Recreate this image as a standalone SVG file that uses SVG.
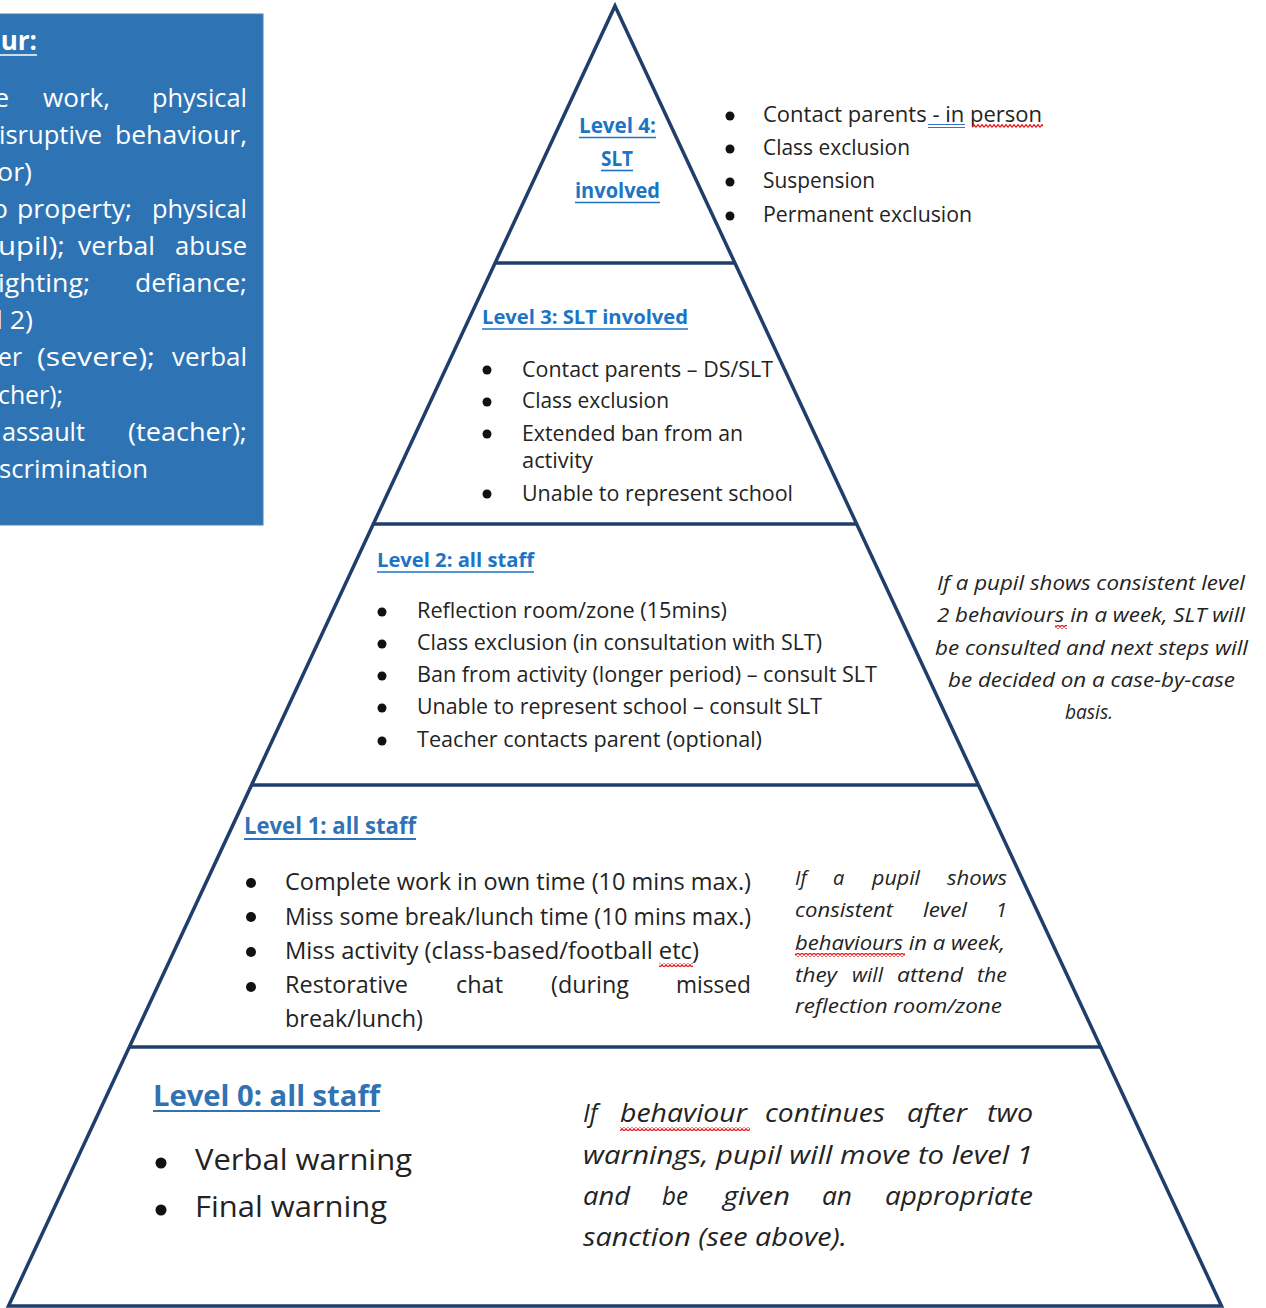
<svg xmlns="http://www.w3.org/2000/svg" width="1266" height="1308" viewBox="0 0 1266 1308">
<style>
  .b{font-family:"Open Sans","Liberation Sans",sans-serif;fill:#232323}
  .it{font-style:italic}
  .w{fill:#ffffff}
  .t1{font-family:"Open Sans","Liberation Sans",sans-serif;font-weight:bold;fill:#1c74c6}
  .t2{font-family:"Open Sans","Liberation Sans",sans-serif;font-weight:bold;fill:#3072b4}
  .u1{stroke:#1c74c6;stroke-width:1.6}
  .u2{stroke:#3072b4;stroke-width:2}
  .bul{fill:#111111}
  .frame{fill:none;stroke:#1f3e6b;stroke-width:3.5;stroke-linejoin:miter}
  .sq{fill:url(#wave)}
</style>
<defs>
  <pattern id="wave" patternUnits="userSpaceOnUse" x="0" y="0" width="4" height="4">
    <path d="M0,3.4 L2,0.6 L4,3.4" fill="none" stroke="#e41c1c" stroke-width="1.2"/>
  </pattern>
</defs>
<rect width="1266" height="1308" fill="#ffffff"/>

<g id="behaviour-box">
  <rect x="-2" y="14" width="265" height="511" fill="#2e74b5" stroke="#4a80b8" stroke-width="1"/>
  <g class="b w" font-size="26">
    <text x="37" y="50" text-anchor="end" font-weight="bold" class="w">ur:</text>
    <line x1="0" y1="55" x2="37" y2="55" stroke="#ffffff" stroke-width="1.6"/>
    <text y="107" class="w" x="9" text-anchor="end">e</text>
    <text y="107" class="w" x="43" textLength="67" lengthAdjust="spacingAndGlyphs">work,</text>
    <text y="107" class="w" x="152" textLength="95" lengthAdjust="spacingAndGlyphs">physical</text>
    <text y="144" class="w" x="-1" textLength="103" lengthAdjust="spacingAndGlyphs">isruptive</text>
    <text y="144" class="w" x="115" textLength="132" lengthAdjust="spacingAndGlyphs">behaviour,</text>
    <text y="181" class="w" x="-3" textLength="35" lengthAdjust="spacingAndGlyphs">or)</text>
    <text y="218" class="w" x="8" text-anchor="end">o</text>
    <text y="218" class="w" x="17" textLength="115" lengthAdjust="spacingAndGlyphs">property;</text>
    <text y="218" class="w" x="152" textLength="95" lengthAdjust="spacingAndGlyphs">physical</text>
    <text y="255" class="w" x="-2" textLength="67" lengthAdjust="spacingAndGlyphs">upil);</text>
    <text y="255" class="w" x="78" textLength="77" lengthAdjust="spacingAndGlyphs">verbal</text>
    <text y="255" class="w" x="175" textLength="72" lengthAdjust="spacingAndGlyphs">abuse</text>
    <text y="292" class="w" x="-2" textLength="92" lengthAdjust="spacingAndGlyphs">ighting;</text>
    <text y="292" class="w" x="135" textLength="112" lengthAdjust="spacingAndGlyphs">defiance;</text>
    <text y="329" class="w" x="-4" textLength="37" lengthAdjust="spacingAndGlyphs">l 2)</text>
    <text y="366" class="w" x="-2" textLength="24" lengthAdjust="spacingAndGlyphs">er</text>
    <text y="366" class="w" x="37" textLength="118" lengthAdjust="spacingAndGlyphs">(severe);</text>
    <text y="366" class="w" x="172" textLength="75" lengthAdjust="spacingAndGlyphs">verbal</text>
    <text y="404" class="w" x="-2" textLength="65" lengthAdjust="spacingAndGlyphs">cher);</text>
    <text y="441" class="w" x="2" textLength="83" lengthAdjust="spacingAndGlyphs">assault</text>
    <text y="441" class="w" x="128" textLength="119" lengthAdjust="spacingAndGlyphs">(teacher);</text>
    <text y="478" class="w" x="-1" textLength="149" lengthAdjust="spacingAndGlyphs">scrimination</text>
  </g>
</g>

<g id="pyramid-frame">
  <polygon class="frame" points="615,6 1221.5,1306 8.5,1306"/>
  <line class="frame" x1="495.1" y1="263" x2="734.9" y2="263"/>
  <line class="frame" x1="373.4" y1="524" x2="856.6" y2="524"/>
  <line class="frame" x1="251.6" y1="785" x2="978.4" y2="785"/>
  <line class="frame" x1="129.4" y1="1047" x2="1100.6" y2="1047"/>
</g>

<g id="level4">
  <g class="t1" font-size="20.5" text-anchor="middle">
    <text x="617.5" y="133" textLength="77" lengthAdjust="spacingAndGlyphs">Level 4:</text>
    <text x="617" y="166" textLength="32" lengthAdjust="spacingAndGlyphs">SLT</text>
    <text x="617.5" y="198" textLength="85" lengthAdjust="spacingAndGlyphs">involved</text>
  </g>
  <line class="u1" x1="579" y1="137.5" x2="656" y2="137.5"/>
  <line class="u1" x1="601" y1="170.5" x2="633" y2="170.5"/>
  <line class="u1" x1="575" y1="202.5" x2="660" y2="202.5"/>
  <g class="bul">
    <circle cx="730" cy="116" r="4.5"/>
    <circle cx="730" cy="149" r="4.5"/>
    <circle cx="730" cy="182" r="4.5"/>
    <circle cx="730" cy="216" r="4.5"/>
  </g>
  <g class="b" font-size="21">
    <text x="763" y="122" textLength="279" lengthAdjust="spacingAndGlyphs">Contact parents -  in person</text>
    <text x="763" y="155" textLength="147" lengthAdjust="spacingAndGlyphs">Class exclusion</text>
    <text x="763" y="188" textLength="112" lengthAdjust="spacingAndGlyphs">Suspension</text>
    <text x="763" y="222" textLength="209" lengthAdjust="spacingAndGlyphs">Permanent exclusion</text>
  </g>
  <line x1="928" y1="124.5" x2="965" y2="124.5" stroke="#3a6fd0" stroke-width="1"/>
  <line x1="928" y1="127.5" x2="965" y2="127.5" stroke="#3a6fd0" stroke-width="1"/>
  <rect class="sq" x="972" y="124" width="71" height="4"/>
</g>

<g id="level3">
  <text class="t1" font-size="20" x="482" y="324" textLength="206" lengthAdjust="spacingAndGlyphs">Level 3: SLT involved</text>
  <line class="u1" x1="482" y1="329" x2="688" y2="329"/>
  <g class="bul">
    <circle cx="487" cy="370" r="4.5"/>
    <circle cx="487" cy="402" r="4.5"/>
    <circle cx="487" cy="434" r="4.5"/>
    <circle cx="487" cy="494" r="4.5"/>
  </g>
  <g class="b" font-size="21.5">
    <text x="522" y="377" textLength="251" lengthAdjust="spacingAndGlyphs">Contact parents – DS/SLT</text>
    <text x="522" y="408" textLength="147" lengthAdjust="spacingAndGlyphs">Class exclusion</text>
    <text x="522" y="441" textLength="221" lengthAdjust="spacingAndGlyphs">Extended ban from an</text>
    <text x="522" y="468" textLength="71" lengthAdjust="spacingAndGlyphs">activity</text>
    <text x="522" y="501" textLength="271" lengthAdjust="spacingAndGlyphs">Unable to represent school</text>
  </g>
</g>

<g id="level2">
  <text class="t1" font-size="20" x="377" y="567" textLength="157" lengthAdjust="spacingAndGlyphs">Level 2: all staff</text>
  <line class="u1" x1="377" y1="572" x2="534" y2="572"/>
  <g class="bul">
    <circle cx="382" cy="612" r="4.5"/>
    <circle cx="382" cy="644" r="4.5"/>
    <circle cx="382" cy="676" r="4.5"/>
    <circle cx="382" cy="708" r="4.5"/>
    <circle cx="382" cy="741" r="4.5"/>
  </g>
  <g class="b" font-size="21.5">
    <text x="417" y="618" textLength="310" lengthAdjust="spacingAndGlyphs">Reflection room/zone (15mins)</text>
    <text x="417" y="650" textLength="405" lengthAdjust="spacingAndGlyphs">Class exclusion (in consultation with SLT)</text>
    <text x="417" y="682" textLength="460" lengthAdjust="spacingAndGlyphs">Ban from activity (longer period) – consult SLT</text>
    <text x="417" y="714" textLength="405" lengthAdjust="spacingAndGlyphs">Unable to represent school – consult SLT</text>
    <text x="417" y="747" textLength="345" lengthAdjust="spacingAndGlyphs">Teacher contacts parent (optional)</text>
  </g>
</g>

<g id="level2-note">
  <g class="b it" font-size="20.5" text-anchor="middle">
    <text x="1091" y="590" textLength="308" lengthAdjust="spacingAndGlyphs">If a pupil shows consistent level</text>
    <text x="1091" y="622" textLength="308" lengthAdjust="spacingAndGlyphs">2 behaviours in a week, SLT will</text>
    <text x="1091.5" y="655" textLength="313" lengthAdjust="spacingAndGlyphs">be consulted and next steps will</text>
    <text x="1091.5" y="687" textLength="287" lengthAdjust="spacingAndGlyphs">be decided on a case-by-case</text>
    <text x="1089" y="719" textLength="48" lengthAdjust="spacingAndGlyphs">basis.</text>
  </g>
  <rect class="sq" x="1055" y="625" width="12" height="4"/>
</g>

<g id="level1">
  <text class="t2" font-size="22.5" x="244" y="834" textLength="172" lengthAdjust="spacingAndGlyphs">Level 1: all staff</text>
  <line class="u2" x1="244" y1="839" x2="416" y2="839"/>
  <g class="bul">
    <circle cx="251" cy="883" r="5"/>
    <circle cx="251" cy="917" r="5"/>
    <circle cx="251" cy="952" r="5"/>
    <circle cx="251" cy="987" r="5"/>
  </g>
  <g class="b" font-size="23.5">
    <text x="285" y="890" textLength="466" lengthAdjust="spacingAndGlyphs">Complete work in own time (10 mins max.)</text>
    <text x="285" y="925" textLength="466" lengthAdjust="spacingAndGlyphs">Miss some break/lunch time (10 mins max.)</text>
    <text x="285" y="959" textLength="414" lengthAdjust="spacingAndGlyphs">Miss activity (class-based/football etc)</text>
    <text x="285" y="993" textLength="123" lengthAdjust="spacingAndGlyphs">Restorative</text>
    <text x="456" y="993" textLength="47" lengthAdjust="spacingAndGlyphs">chat</text>
    <text x="551" y="993" textLength="78" lengthAdjust="spacingAndGlyphs">(during</text>
    <text x="676" y="993" textLength="75" lengthAdjust="spacingAndGlyphs">missed</text>
    <text x="285" y="1027" textLength="138" lengthAdjust="spacingAndGlyphs">break/lunch)</text>
  </g>
  <rect class="sq" x="659" y="963" width="34" height="4"/>
</g>

<g id="level1-note">
  <g class="b it" font-size="20">
    <text x="795" y="885">If</text>
    <text x="833" y="885">a</text>
    <text x="872" y="885" textLength="48" lengthAdjust="spacingAndGlyphs">pupil</text>
    <text x="947" y="885" textLength="60" lengthAdjust="spacingAndGlyphs">shows</text>
    <text x="795" y="917" textLength="98" lengthAdjust="spacingAndGlyphs">consistent</text>
    <text x="923" y="917" textLength="44" lengthAdjust="spacingAndGlyphs">level</text>
    <text x="996" y="917">1</text>
    <text x="795" y="950" textLength="210" lengthAdjust="spacingAndGlyphs">behaviours in a week,</text>
    <text x="795" y="982" textLength="42" lengthAdjust="spacingAndGlyphs">they</text>
    <text x="852" y="982" textLength="31" lengthAdjust="spacingAndGlyphs">will</text>
    <text x="897" y="982" textLength="66" lengthAdjust="spacingAndGlyphs">attend</text>
    <text x="977" y="982" textLength="30" lengthAdjust="spacingAndGlyphs">the</text>
    <text x="795" y="1013" textLength="207" lengthAdjust="spacingAndGlyphs">reflection room/zone</text>
  </g>
  <rect class="sq" x="795" y="953" width="110" height="4"/>
</g>

<g id="level0">
  <text class="t2" font-size="29" x="153" y="1106" textLength="227" lengthAdjust="spacingAndGlyphs">Level 0: all staff</text>
  <line class="u2" x1="153" y1="1111" x2="380" y2="1111"/>
  <g class="bul">
    <circle cx="161" cy="1163" r="5.5"/>
    <circle cx="161" cy="1210" r="5.5"/>
  </g>
  <g class="b" font-size="29">
    <text x="195" y="1170" textLength="217" lengthAdjust="spacingAndGlyphs">Verbal warning</text>
    <text x="195" y="1217" textLength="192" lengthAdjust="spacingAndGlyphs">Final warning</text>
  </g>
</g>

<g id="level0-note">
  <g class="b it" font-size="25">
    <text x="583" y="1122">If</text>
    <text x="620" y="1122" textLength="127" lengthAdjust="spacingAndGlyphs">behaviour</text>
    <text x="765" y="1122" textLength="120" lengthAdjust="spacingAndGlyphs">continues</text>
    <text x="907" y="1122" textLength="60" lengthAdjust="spacingAndGlyphs">after</text>
    <text x="987" y="1122" textLength="46" lengthAdjust="spacingAndGlyphs">two</text>
    <text x="583" y="1164" textLength="450" lengthAdjust="spacingAndGlyphs">warnings, pupil will move to level 1</text>
    <text x="583" y="1205" textLength="47" lengthAdjust="spacingAndGlyphs">and</text>
    <text x="662" y="1205" textLength="26" lengthAdjust="spacingAndGlyphs">be</text>
    <text x="723" y="1205" textLength="67" lengthAdjust="spacingAndGlyphs">given</text>
    <text x="822" y="1205" textLength="30" lengthAdjust="spacingAndGlyphs">an</text>
    <text x="885" y="1205" textLength="148" lengthAdjust="spacingAndGlyphs">appropriate</text>
    <text x="583" y="1246" textLength="264" lengthAdjust="spacingAndGlyphs">sanction (see above).</text>
  </g>
  <rect class="sq" x="620" y="1127" width="130" height="4"/>
</g>
</svg>
